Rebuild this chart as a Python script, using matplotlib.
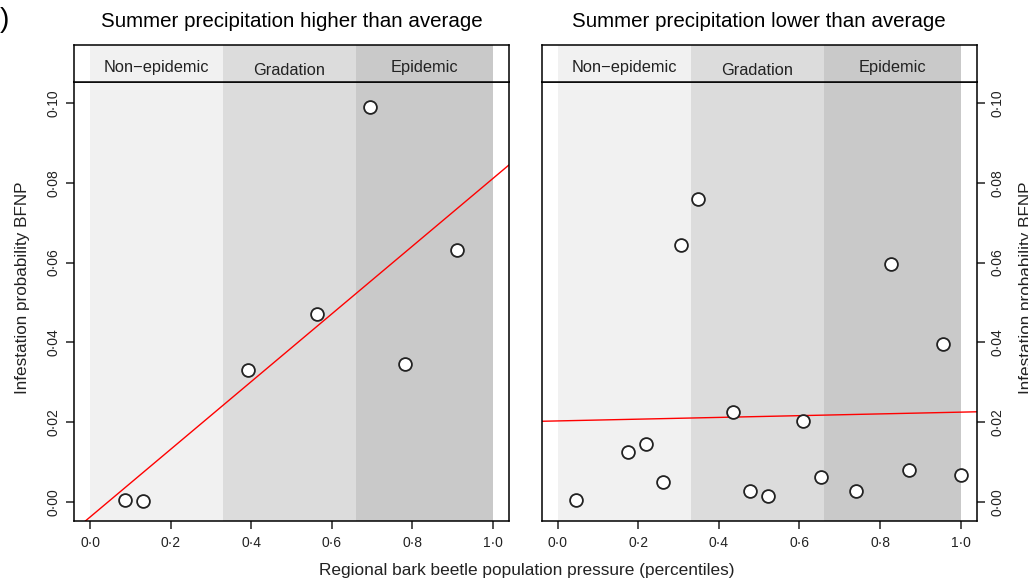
import matplotlib
matplotlib.use("Agg")
import numpy as np
from matplotlib import pyplot as plt

plt.rcParams["font.family"] = ["Liberation Sans", "DejaVu Sans"]

# data
x_high = [0.087, 0.131, 0.391, 0.564, 0.696, 0.782, 0.912]
y_high = [0.0005, 0.0003, 0.0330, 0.0471, 0.0991, 0.0347, 0.0631]
fit_high = (-0.0038, 0.0849)  # intercept, slope

x_low = [0.044, 0.174, 0.218, 0.262, 0.305, 0.349, 0.435, 0.478, 0.523,
         0.609, 0.653, 0.740, 0.827, 0.871, 0.957, 1.000]
y_low = [0.0005, 0.0126, 0.0146, 0.0049, 0.0643, 0.0759, 0.0226, 0.0027, 0.0014,
         0.0203, 0.0062, 0.0026, 0.0596, 0.0080, 0.0396, 0.0068]
fit_low = (0.0203, 0.0022)

phases = ["Non\u2212epidemic", "Gradation", "Epidemic"]
phase_edges = [0.0, 0.33, 0.66, 1.0]
phase_colors = ["#f1f1f1", "#dcdcdc", "#c9c9c9"]
phase_text_y = [0.40, 0.30, 0.40]

xticks = [0.0, 0.2, 0.4, 0.6, 0.8, 1.0]
xticklabels = ["0\u00b70", "0\u00b72", "0\u00b74", "0\u00b76", "0\u00b78", "1\u00b70"]
yticks = [0.0, 0.02, 0.04, 0.06, 0.08, 0.10]
yticklabels = ["0\u00b700", "0\u00b702", "0\u00b704", "0\u00b706", "0\u00b708", "0\u00b710"]

titles = ["Summer precipitation higher than average",
          "Summer precipitation lower than average"]
ylab = "Infestation probability BFNP"
xlab = "Regional bark beetle population pressure (percentiles)"

W, H = 1028, 580
fig = plt.figure(figsize=(W / 100, H / 100), dpi=100)

xlim = (-0.04, 1.04)
ylim = (-0.0048, 0.1053)


def fr(x0, y0, x1, y1):
    return [x0 / W, 1 - y1 / H, (x1 - x0) / W, (y1 - y0) / H]


panels = [
    (74, 509, x_high, y_high, fit_high, "left"),
    (541.7, 976.7, x_low, y_low, fit_low, "right"),
]

for i, (px0, px1, xs, ys, fit, side) in enumerate(panels):
    ax = fig.add_axes(fr(px0, 82, px1, 521))
    hd = fig.add_axes(fr(px0, 45, px1, 82))
    for a in (ax, hd):
        for k in range(3):
            a.axvspan(phase_edges[k], phase_edges[k + 1], color=phase_colors[k],
                      lw=0, zorder=0)
        a.set_xlim(*xlim)
        for s in a.spines.values():
            s.set_linewidth(1.1)
    hd.set_ylim(0, 1)
    hd.set_xticks([])
    hd.set_yticks([])
    for k in range(3):
        xc = (phase_edges[k] + phase_edges[k + 1]) / 2
        hd.text(xc, phase_text_y[k], phases[k], ha="center", va="center",
                fontsize=11.8, color="#222222")
    hd.set_title(titles[i], fontsize=14.8, pad=13)

    ax.set_ylim(*ylim)
    ax.axline((0, fit[0]), slope=fit[1], color="red", lw=1.0, zorder=2)
    ax.scatter(xs, ys, s=85, facecolor="white", edgecolor="#222222",
               linewidth=1.3, zorder=3)
    ax.set_xticks(xticks)
    ax.set_xticklabels(xticklabels)
    ax.set_yticks(yticks)
    ax.set_yticklabels(yticklabels, rotation=90, va="center")
    ax.tick_params(direction="out", length=6, width=1.1, labelsize=10,
                   colors="#222222", pad=4)
    ax.tick_params(axis="x", pad=5)
    if side == "right":
        ax.yaxis.tick_right()
        ax.set_yticklabels(yticklabels, rotation=90, va="center")

fig.text(23 / W, 1 - 288 / H, ylab, rotation=90, ha="center", va="center",
         fontsize=12.3, color="#222222")
fig.text(1027 / W, 1 - 288 / H, ylab, rotation=90, ha="center", va="center",
         fontsize=12.3, color="#222222")
fig.text(527 / W, 1 - 571 / H, xlab, ha="center", va="center", fontsize=12.4,
         color="#222222")
fig.text(0.0, 1 - 20 / H, ")", ha="left", va="center", fontsize=20)

fig.savefig("out.png", dpi=100)
